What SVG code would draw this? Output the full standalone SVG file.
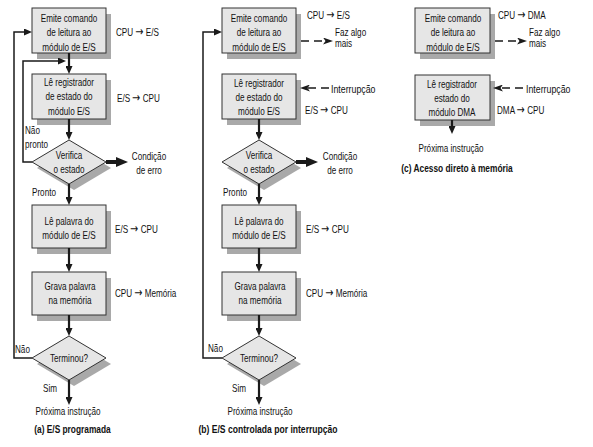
<svg xmlns="http://www.w3.org/2000/svg" width="593" height="447" viewBox="0 0 593 447">
<style>
.bg{fill:#ffffff}
.sh{fill:#a9a9a9}
.bx{fill:#e6e6e6;stroke:#333333;stroke-width:1}
.t{font-family:"Liberation Sans",Arial,sans-serif;font-size:11px;fill:#111111}
.ar{font-family:"DejaVu Sans",sans-serif;font-size:13px}
.c{text-anchor:middle}
.b{font-weight:bold}
.flow{stroke:#1a1a1a;stroke-width:2.2;fill:none;marker-end:url(#ah)}
.loop{stroke:#1a1a1a;stroke-width:1.5;fill:none;marker-end:url(#ah)}
.err{stroke:#1a1a1a;stroke-width:4;fill:none;marker-end:url(#ahb)}
.dash{stroke:#1a1a1a;stroke-width:1.5;fill:none;stroke-dasharray:8 5;marker-end:url(#ahd)}
</style>
<defs>
<marker id="ah" markerUnits="userSpaceOnUse" viewBox="0 0 8 7" markerWidth="8" markerHeight="7" refX="1" refY="3.5" orient="auto"><path d="M0,0 L8,3.5 L0,7 z" fill="#1a1a1a"/></marker>
<marker id="ahb" markerUnits="userSpaceOnUse" viewBox="0 0 12 10" markerWidth="12" markerHeight="10" refX="1" refY="5" orient="auto"><path d="M0,0 L12,5 L0,10 z" fill="#1a1a1a"/></marker>
<marker id="ahd" markerUnits="userSpaceOnUse" viewBox="0 0 10 7" markerWidth="10" markerHeight="7" refX="2.5" refY="3.5" orient="auto"><path d="M0,0 L10,3.5 L0,7 L2.5,3.5 z" fill="#1a1a1a"/></marker>
</defs>
<rect class="bg" x="0" y="0" width="593" height="447"/>

<!-- Panel (a) -->
<g id="a-emite">
<rect class="sh" x="37" y="14" width="74" height="45"/>
<rect class="bx" x="32" y="8" width="74" height="45"/>
<text class="t c" transform="translate(69 22) scale(.74 1)"><tspan x="0">Emite comando</tspan><tspan x="0" dy="14.5">de leitura ao</tspan><tspan x="0" dy="14.5">módulo de E/S</tspan></text>
</g>
<g id="a-le-registrador">
<rect class="sh" x="37" y="80" width="74" height="45"/>
<rect class="bx" x="32" y="74" width="74" height="45"/>
<text class="t c" transform="translate(69 86) scale(.74 1)"><tspan x="0">Lê registrador</tspan><tspan x="0" dy="14.5">de estado do</tspan><tspan x="0" dy="14.5">módulo E/S</tspan></text>
</g>
<g id="a-verifica">
<polygon class="sh" points="74,146 111,168 74,190 37,168"/>
<polygon class="bx" points="69,140 106,162 69,184 32,162"/>
<text class="t c" transform="translate(69 159) scale(.74 1)"><tspan x="0">Verifica</tspan><tspan x="0" dy="14.5">o estado</tspan></text>
</g>
<g id="a-le-palavra">
<rect class="sh" x="37" y="211" width="74" height="43"/>
<rect class="bx" x="32" y="205" width="74" height="43"/>
<text class="t c" transform="translate(69 225) scale(.74 1)"><tspan x="0">Lê palavra do</tspan><tspan x="0" dy="14">módulo de E/S</tspan></text>
</g>
<g id="a-grava">
<rect class="sh" x="37" y="278" width="74" height="43"/>
<rect class="bx" x="32" y="272" width="74" height="43"/>
<text class="t c" transform="translate(70 290) scale(.74 1)"><tspan x="0">Grava palavra</tspan><tspan x="0" dy="14">na memória</tspan></text>
</g>
<g id="a-terminou">
<polygon class="sh" points="74,342 111,364 74,386 37,364"/>
<polygon class="bx" points="69,336 106,358 69,380 32,358"/>
<text class="t c" transform="translate(69 362) scale(.74 1)">Terminou?</text>
</g>

<!-- Panel (b) -->
<g id="b-emite">
<rect class="sh" x="227" y="14" width="74" height="45"/>
<rect class="bx" x="222" y="8" width="74" height="45"/>
<text class="t c" transform="translate(259 22) scale(.74 1)"><tspan x="0">Emite comando</tspan><tspan x="0" dy="14.5">de leitura ao</tspan><tspan x="0" dy="14.5">módulo de E/S</tspan></text>
</g>
<g id="b-le-registrador">
<rect class="sh" x="227" y="80" width="74" height="45"/>
<rect class="bx" x="222" y="74" width="74" height="45"/>
<text class="t c" transform="translate(259 86.5) scale(.74 1)"><tspan x="0">Lê registrador</tspan><tspan x="0" dy="14.5">de estado do</tspan><tspan x="0" dy="14.5">módulo E/S</tspan></text>
</g>
<g id="b-verifica">
<polygon class="sh" points="264,146 301,168 264,190 227,168"/>
<polygon class="bx" points="259,140 296,162 259,184 222,162"/>
<text class="t c" transform="translate(259 159) scale(.74 1)"><tspan x="0">Verifica</tspan><tspan x="0" dy="14.5">o estado</tspan></text>
</g>
<g id="b-le-palavra">
<rect class="sh" x="227" y="211" width="74" height="43"/>
<rect class="bx" x="222" y="205" width="74" height="43"/>
<text class="t c" transform="translate(259 225) scale(.74 1)"><tspan x="0">Lê palavra do</tspan><tspan x="0" dy="14">módulo de E/S</tspan></text>
</g>
<g id="b-grava">
<rect class="sh" x="227" y="278" width="74" height="43"/>
<rect class="bx" x="222" y="272" width="74" height="43"/>
<text class="t c" transform="translate(260 290) scale(.74 1)"><tspan x="0">Grava palavra</tspan><tspan x="0" dy="14">na memória</tspan></text>
</g>
<g id="b-terminou">
<polygon class="sh" points="264,342 301,364 264,386 227,364"/>
<polygon class="bx" points="259,336 296,358 259,380 222,358"/>
<text class="t c" transform="translate(259 362) scale(.74 1)">Terminou?</text>
</g>

<!-- Panel (c) -->
<g id="c-emite">
<rect class="sh" x="420" y="14" width="75" height="45"/>
<rect class="bx" x="415" y="8" width="75" height="45"/>
<text class="t c" transform="translate(453 22) scale(.74 1)"><tspan x="0">Emite comando</tspan><tspan x="0" dy="14.5">de leitura ao</tspan><tspan x="0" dy="14.5">módulo de E/S</tspan></text>
</g>
<g id="c-le-registrador">
<rect class="sh" x="420" y="81" width="75" height="45"/>
<rect class="bx" x="415" y="75" width="75" height="45"/>
<text class="t c" transform="translate(452 88) scale(.74 1)"><tspan x="0">Lê registrador</tspan><tspan x="0" dy="14">estado do</tspan><tspan x="0" dy="14">módulo DMA</tspan></text>
</g>

<!-- Connectors -->
<g id="connectors">
<line class="flow" x1="69" y1="53" x2="69" y2="67"/>
<line class="flow" x1="69" y1="119" x2="69" y2="133"/>
<line class="flow" x1="69" y1="184" x2="69" y2="198"/>
<line class="flow" x1="69" y1="248" x2="69" y2="265"/>
<line class="flow" x1="69" y1="315" x2="69" y2="329"/>
<line class="flow" x1="69" y1="380" x2="69" y2="398"/>
<polyline class="loop" points="32,162 23,162 23,61 59,61"/>
<polyline class="loop" points="32,358 14,358 14,32 25,32"/>
<line class="err" x1="106" y1="162" x2="117" y2="162"/>

<line class="flow" x1="259" y1="119" x2="259" y2="133"/>
<line class="flow" x1="259" y1="184" x2="259" y2="198"/>
<line class="flow" x1="259" y1="248" x2="259" y2="265"/>
<line class="flow" x1="259" y1="315" x2="259" y2="329"/>
<line class="flow" x1="259" y1="380" x2="259" y2="398"/>
<polyline class="loop" points="222,358 203,358 203,32 215,32"/>
<line class="err" x1="296" y1="162" x2="307" y2="162"/>
<line class="dash" x1="301" y1="41" x2="325.5" y2="41"/>
<line class="dash" x1="329" y1="88" x2="307.5" y2="88"/>

<line class="dash" x1="495" y1="41" x2="519.5" y2="41"/>
<line class="dash" x1="523" y1="88" x2="500.5" y2="88"/>
<line class="flow" x1="452" y1="120" x2="452" y2="127"/>
</g>

<!-- Labels -->
<g id="labels">
<text class="t" transform="translate(116 35.5) scale(.74 1)">CPU <tspan class="ar">→</tspan> E/S</text>
<text class="t" transform="translate(117 102) scale(.74 1)">E/S <tspan class="ar">→</tspan> CPU</text>
<text class="t" transform="translate(25 134) scale(.74 1)"><tspan x="0">Não</tspan><tspan x="0" dy="14.5">pronto</tspan></text>
<text class="t c" transform="translate(149 159.5) scale(.74 1)"><tspan x="0">Condição</tspan><tspan x="0" dy="14.5">de erro</tspan></text>
<text class="t" transform="translate(32 196) scale(.74 1)">Pronto</text>
<text class="t" transform="translate(115 233) scale(.74 1)">E/S <tspan class="ar">→</tspan> CPU</text>
<text class="t" transform="translate(115 297) scale(.74 1)">CPU <tspan class="ar">→</tspan> Memória</text>
<text class="t" transform="translate(15 353) scale(.74 1)">Não</text>
<text class="t" transform="translate(43 392) scale(.74 1)">Sim</text>
<text class="t c" transform="translate(68 415) scale(.74 1)">Próxima instrução</text>
<text class="t c b" transform="translate(72.5 432.5) scale(.76 1)">(a) E/S programada</text>

<text class="t" transform="translate(307 19) scale(.74 1)">CPU <tspan class="ar">→</tspan> E/S</text>
<text class="t" transform="translate(335 35.5) scale(.74 1)"><tspan x="0">Faz algo</tspan><tspan x="0" dy="11.5">mais</tspan></text>
<text class="t" transform="translate(331 92.5) scale(.8 1)">Interrupção</text>
<text class="t" transform="translate(305 113.5) scale(.74 1)">E/S <tspan class="ar">→</tspan> CPU</text>
<text class="t c" transform="translate(340 159.5) scale(.74 1)"><tspan x="0">Condição</tspan><tspan x="0" dy="14.5">de erro</tspan></text>
<text class="t" transform="translate(223 195.5) scale(.74 1)">Pronto</text>
<text class="t" transform="translate(306 233) scale(.74 1)">E/S <tspan class="ar">→</tspan> CPU</text>
<text class="t" transform="translate(306 297) scale(.74 1)">CPU <tspan class="ar">→</tspan> Memória</text>
<text class="t" transform="translate(208 352) scale(.74 1)">Não</text>
<text class="t" transform="translate(232 392) scale(.74 1)">Sim</text>
<text class="t c" transform="translate(260 415) scale(.74 1)">Próxima instrução</text>
<text class="t c b" transform="translate(268 432.5) scale(.78 1)">(b) E/S controlada por interrupção</text>

<text class="t" transform="translate(498 19) scale(.74 1)">CPU <tspan class="ar">→</tspan> DMA</text>
<text class="t" transform="translate(529 35.5) scale(.74 1)"><tspan x="0">Faz algo</tspan><tspan x="0" dy="11.5">mais</tspan></text>
<text class="t" transform="translate(526 92.5) scale(.8 1)">Interrupção</text>
<text class="t" transform="translate(497 113.5) scale(.74 1)">DMA <tspan class="ar">→</tspan> CPU</text>
<text class="t c" transform="translate(451 152) scale(.74 1)">Próxima instrução</text>
<text class="t c b" transform="translate(457 172) scale(.76 1)">(c) Acesso direto à memória</text>
</g>
</svg>
